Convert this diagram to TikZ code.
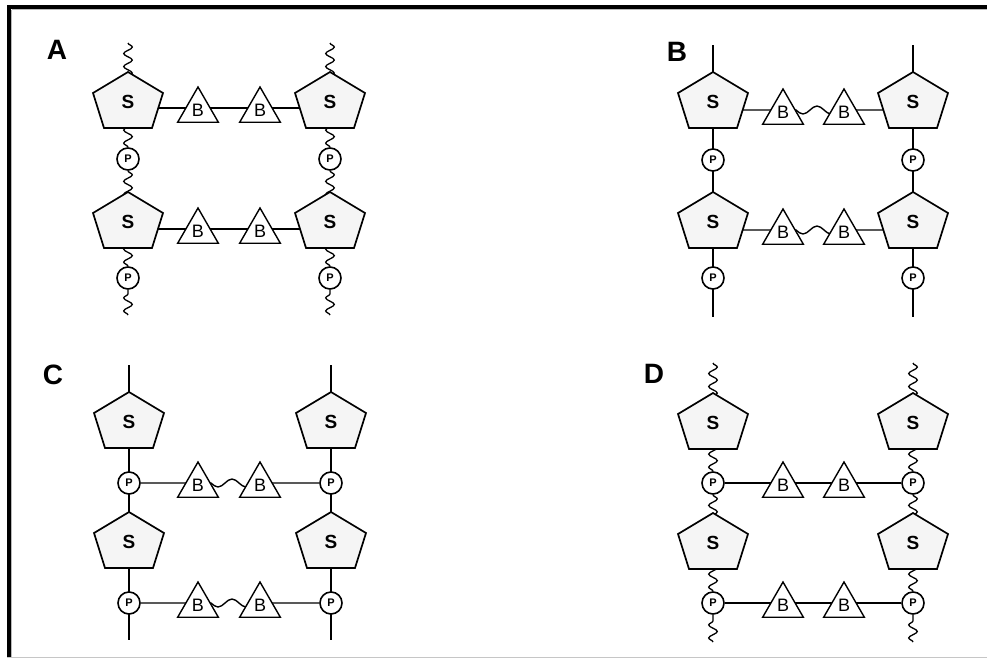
\documentclass[tikz,border=0pt]{standalone}
\usepackage{fontspec}
\setmainfont{Liberation Sans}
\usetikzlibrary{shapes.geometric,decorations.pathmorphing,backgrounds}
\tikzset{
 pent/.style={draw=black, fill=gray!8, line width=1.7pt, line join=miter},
 stext/.style={inner sep=0pt, font=\bfseries\fontsize{19}{19}\selectfont},
 tri/.style={regular polygon, regular polygon sides=3, minimum size=47pt, inner sep=0pt, draw, fill=white, line width=1.4pt, font=\fontsize{18}{18}\selectfont},
 pcirc/.style={circle, draw, fill=white, minimum size=22pt, inner sep=0pt, line width=1.6pt, font=\bfseries\fontsize{11}{11}\selectfont},
 bond/.style={line width=1.4pt},
 wavy/.style={line width=1.3pt, decorate, decoration={snake, segment length=13pt, amplitude=4.3pt}},
 lab/.style={font=\bfseries\fontsize{28}{28}\selectfont, inner sep=0pt}
}
\newcommand{\sugarnode}[2]{%
  \filldraw[pent] (#2) +(0,-30) -- +(35,-9) -- +(24,26) -- +(-24,26) -- +(-35,-9) -- cycle;
  \node[stext] (#1) at (#2) {S};}
\begin{document}
\begin{tikzpicture}[x=1pt,y=-1pt]
\useasboundingbox (0,0) rectangle (987,659);
% frame
\draw[gray!55, line width=1pt] (11.5,9.5) -- (987,9.5);
\draw[gray!55, line width=1pt] (11.5,9.5) -- (11.5,657);
\draw[gray!45, line width=1.2pt] (7,657.5) -- (987,657.5);
\draw[line width=4pt] (7,7) -- (987,7);
\draw[line width=4pt] (9,5) -- (9,657);

% labels
\node[lab] (labA) at (57,50) {A};
\node[lab] (labB) at (677,52) {B};
\node[lab] (labC) at (53,375) {C};
\node[lab] (labD) at (654,374) {D};

% ===== Panel A =====
\sugarnode{a1}{128,102}
\sugarnode{a2}{330,102}
\sugarnode{a3}{128,222}
\sugarnode{a4}{330,222}
\node[tri] (ta1) at (198,110.5) {B};
\node[tri] (ta2) at (260,110.5) {B};
\node[tri] (ta3) at (198,231.5) {B};
\node[tri] (ta4) at (260,231.5) {B};
\node[pcirc] (pa1) at (128,159) {P};
\node[pcirc] (pa2) at (330,159) {P};
\node[pcirc] (pa3) at (128,278) {P};
\node[pcirc] (pa4) at (330,278) {P};
\coordinate (ea1) at (128,43);
\coordinate (ea2) at (330,43);
\coordinate (ea3) at (128,315);
\coordinate (ea4) at (330,315);
\coordinate (la1) at (128,108);
\coordinate (la2) at (128,229);

% ===== Panel B =====
\sugarnode{b1}{713,102}
\sugarnode{b2}{913,102}
\sugarnode{b3}{713,222}
\sugarnode{b4}{913,222}
\node[tri] (tb1) at (783,112.5) {B};
\node[tri] (tb2) at (844,112.5) {B};
\node[tri] (tb3) at (783,232.5) {B};
\node[tri] (tb4) at (844,232.5) {B};
\node[pcirc] (pb1) at (713,160) {P};
\node[pcirc] (pb2) at (913,160) {P};
\node[pcirc] (pb3) at (713,278) {P};
\node[pcirc] (pb4) at (913,278) {P};
\coordinate (eb1) at (713,45);
\coordinate (eb2) at (913,45);
\coordinate (eb3) at (713,317);
\coordinate (eb4) at (913,317);
\coordinate (lb1) at (713,110);
\coordinate (lb2) at (713,230);

% ===== Panel C =====
\sugarnode{c1}{129,422}
\sugarnode{c2}{331,422}
\sugarnode{c3}{129,542}
\sugarnode{c4}{331,542}
\node[tri] (tc1) at (198,485.5) {B};
\node[tri] (tc2) at (260,485.5) {B};
\node[tri] (tc3) at (198,605.5) {B};
\node[tri] (tc4) at (260,605.5) {B};
\node[pcirc] (pc1) at (129,483) {P};
\node[pcirc] (pc2) at (331,483) {P};
\node[pcirc] (pc3) at (129,603) {P};
\node[pcirc] (pc4) at (331,603) {P};
\coordinate (ec1) at (129,365);
\coordinate (ec2) at (331,365);
\coordinate (ec3) at (129,640);
\coordinate (ec4) at (331,640);

% ===== Panel D =====
\sugarnode{d1}{713,423}
\sugarnode{d2}{913,423}
\sugarnode{d3}{713,543}
\sugarnode{d4}{913,543}
\node[tri] (td1) at (783,485.5) {B};
\node[tri] (td2) at (844,485.5) {B};
\node[tri] (td3) at (783,605.5) {B};
\node[tri] (td4) at (844,605.5) {B};
\node[pcirc] (pd1) at (713,483) {P};
\node[pcirc] (pd2) at (913,483) {P};
\node[pcirc] (pd3) at (713,603) {P};
\node[pcirc] (pd4) at (913,603) {P};
\coordinate (ed1) at (713,363);
\coordinate (ed2) at (913,363);
\coordinate (ed3) at (713,642);
\coordinate (ed4) at (913,642);

\begin{scope}[on background layer]
% A
\draw[bond] (la1) -- (la1 -| a2);
\draw[bond] (la2) -- (la2 -| a4);
\draw[wavy] (ea1) -- (a1);
\draw[wavy] (ea2) -- (a2);
\draw[wavy] (pa1) -- (a1);
\draw[wavy] (pa1) -- (a3);
\draw[wavy] (pa2) -- (a2);
\draw[wavy] (pa2) -- (a4);
\draw[wavy] (pa3) -- (a3);
\draw[wavy] (pa4) -- (a4);
\draw[wavy] (ea3) -- (pa3);
\draw[wavy] (ea4) -- (pa4);
% B
\draw[bond] (eb1) -- (eb3);
\draw[bond] (eb2) -- (eb4);
\draw[bond] (lb1) -- (lb1 -| tb1) -- ++(13,0) sin ++(7,4) cos ++(7,-4) sin ++(7,-4) cos ++(7,4) sin ++(7,4) -- (lb1 -| tb2) -- (lb1 -| b2);
\draw[bond] (lb2) -- (lb2 -| tb3) -- ++(13,0) sin ++(7,4) cos ++(7,-4) sin ++(7,-4) cos ++(7,4) sin ++(7,4) -- (lb2 -| tb4) -- (lb2 -| b4);
% C
\draw[bond] (ec1) -- (ec3);
\draw[bond] (ec2) -- (ec4);
\draw[bond] (pc1) -- (pc1 -| tc1) -- ++(13,0) sin ++(7,4) cos ++(7,-4) sin ++(7,-4) cos ++(7,4) sin ++(7,4) -- (pc1 -| tc2) -- (pc2);
\draw[bond] (pc3) -- (pc3 -| tc3) -- ++(13,0) sin ++(7,4) cos ++(7,-4) sin ++(7,-4) cos ++(7,4) sin ++(7,4) -- (pc3 -| tc4) -- (pc4);
% D
\draw[bond] (pd1) -- (pd2);
\draw[bond] (pd3) -- (pd4);
\draw[wavy] (ed1) -- (d1);
\draw[wavy] (ed2) -- (d2);
\draw[wavy] (pd1) -- (d1);
\draw[wavy] (pd1) -- (d3);
\draw[wavy] (pd2) -- (d2);
\draw[wavy] (pd2) -- (d4);
\draw[wavy] (pd3) -- (d3);
\draw[wavy] (pd4) -- (d4);
\draw[wavy] (ed3) -- (pd3);
\draw[wavy] (ed4) -- (pd4);
\end{scope}
\end{tikzpicture}
\end{document}
